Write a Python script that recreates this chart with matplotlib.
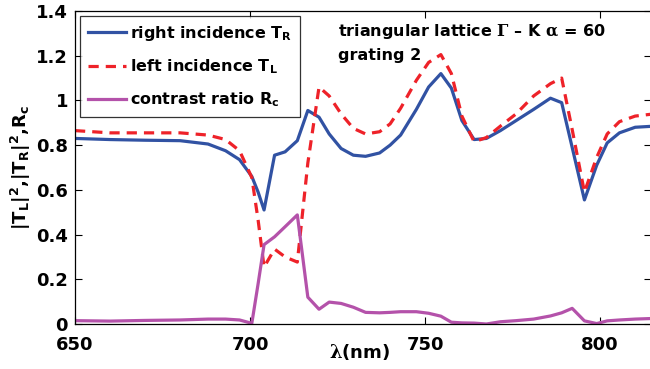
import matplotlib
matplotlib.use("Agg")
import matplotlib.pyplot as plt

plt.rcParams['mathtext.fontset'] = 'custom'
plt.rcParams['mathtext.rm'] = 'DejaVu Serif'
plt.rcParams['mathtext.bf'] = 'DejaVu Sans:bold'
plt.rcParams['mathtext.it'] = 'DejaVu Sans:bold'
plt.rcParams['mathtext.default'] = 'bf'
plt.rcParams['font.family'] = 'DejaVu Sans'
plt.rcParams['font.weight'] = 'bold'

wavelength = [650, 660, 670, 680, 688, 693, 697, 700.5, 702.3, 704, 707, 710, 713.5,
              716.5, 719.7, 722.6, 726, 729.5, 733, 737, 740, 743, 747.5, 751, 754.5,
              757.5, 760.5, 764, 767.5, 771.5, 776, 781, 785.8, 789, 792, 795.5, 799,
              802, 805.5, 810, 815.5]

T_right = [0.83, 0.825, 0.822, 0.82, 0.805, 0.775, 0.735, 0.66, 0.59, 0.51, 0.755, 0.77,
           0.82, 0.955, 0.925, 0.85, 0.785, 0.755, 0.75, 0.765, 0.80, 0.845, 0.96, 1.06,
           1.12, 1.055, 0.91, 0.825, 0.83, 0.865, 0.91, 0.96, 1.01, 0.99, 0.79, 0.555,
           0.71, 0.81, 0.855, 0.88, 0.885]

T_left = [0.865, 0.855, 0.855, 0.855, 0.845, 0.825, 0.775, 0.655, 0.465, 0.255, 0.335,
          0.30, 0.277, 0.72, 1.06, 1.02, 0.94, 0.875, 0.85, 0.86, 0.895, 0.965, 1.09,
          1.17, 1.205, 1.12, 0.93, 0.815, 0.834, 0.885, 0.94, 1.02, 1.075, 1.10, 0.87,
          0.59, 0.745, 0.85, 0.905, 0.93, 0.94]

R_contrast = [0.015, 0.013, 0.016, 0.018, 0.022, 0.022, 0.018, 0.003, 0.18, 0.355, 0.39,
              0.435, 0.488, 0.12, 0.066, 0.098, 0.092, 0.075, 0.052, 0.05, 0.052, 0.055,
              0.055, 0.048, 0.035, 0.008, 0.005, 0.004, 0.0, 0.01, 0.015, 0.022, 0.036,
              0.05, 0.07, 0.014, 0.002, 0.014, 0.018, 0.022, 0.025]

x_ticks = [650, 700, 750, 800]
y_ticks = [0, 0.2, 0.4, 0.6, 0.8, 1.0, 1.2, 1.4]
y_tick_labels = ['0', '0.2', '0.4', '0.6', '0.8', '1', '1.2', '1.4']

fig = plt.figure(figsize=(6.5, 3.69), dpi=100)
ax = fig.add_axes([75/650, 1-324/369, 1.002 - 75/650, (324-11)/369])

ax.plot(wavelength, T_right, color='#3152a3', lw=2.3, label=r'right incidence T$_R$')
ax.plot(wavelength, T_left, color='#ee2229', lw=2.3, ls=(0, (3.2, 2.2)),
        label=r'left incidence T$_L$')
ax.plot(wavelength, R_contrast, color='#b452aa', lw=2.3, label=r'contrast ratio R$_c$')

ax.set_xlim(650, 814.6)
ax.set_ylim(0, 1.4)
ax.set_xticks(x_ticks)
ax.set_yticks(y_ticks)
ax.set_yticklabels(y_tick_labels)
ax.tick_params(direction='in', top=True, right=True, labelsize=13, length=5, width=0.8)
ax.tick_params(axis='x', pad=9)
ax.tick_params(axis='y', pad=5)
for lab in ax.get_xticklabels() + ax.get_yticklabels():
    lab.set_fontweight('bold')
for s in ax.spines.values():
    s.set_linewidth(0.9)

ax.set_xlabel(r'$\mathrm{\lambda}$(nm)', fontsize=13, fontweight='bold', va='center')
ax.xaxis.set_label_coords(0.494, -0.089)
ax.set_ylabel(r'|T$_L$|$^2$,|T$_R$|$^2$,R$_c$', fontsize=13, fontweight='bold', labelpad=2)

leg = ax.legend(loc='upper left', fontsize=11.5, frameon=True, fancybox=False,
                edgecolor='black', borderpad=0.5, handlelength=2.4, handletextpad=0.25,
                labelspacing=0.9, borderaxespad=0.3)
leg.get_frame().set_linewidth(0.9)
for t in leg.get_texts():
    t.set_fontweight('bold')

ax.text(0.457, 0.933, r'triangular lattice $\mathrm{\Gamma}$ – K $\mathrm{\alpha}$ = 60',
        transform=ax.transAxes, fontsize=11.5, fontweight='bold', va='center', ha='left')
ax.text(0.457, 0.859, 'grating 2', transform=ax.transAxes, fontsize=11.5,
        fontweight='bold', va='center', ha='left')

fig.savefig('out.png', dpi=100)
